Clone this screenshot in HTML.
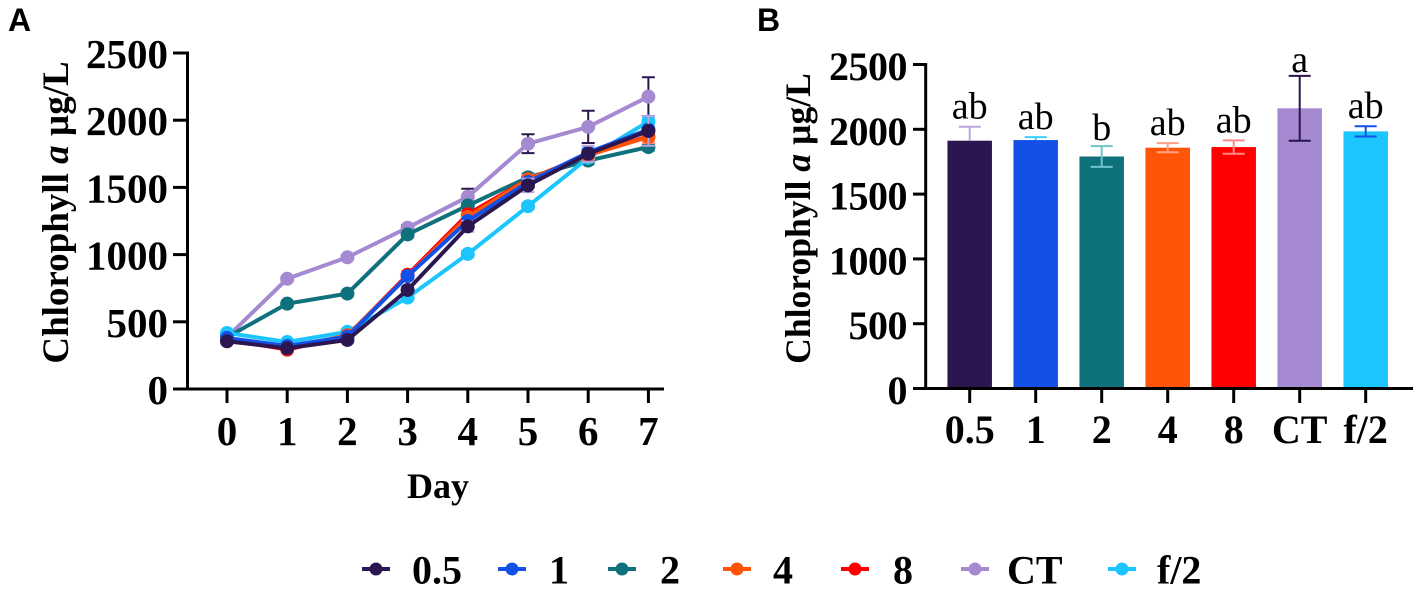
<!DOCTYPE html>
<html lang="en">
<head>
<meta charset="utf-8">
<title>Chlorophyll a</title>
<style>
html,body{margin:0;padding:0;background:#fff;width:1418px;height:590px;overflow:hidden}
svg{display:block}
text{font-family:"Liberation Serif",serif;fill:#000}
.bold{font-weight:bold}
.panel{font-family:"Liberation Sans",sans-serif;font-weight:bold;font-size:32px}
</style>
</head>
<body>
<svg id="figure" xmlns="http://www.w3.org/2000/svg" width="1418" height="590" viewBox="0 0 1418 590">
  <text class="panel" x="8" y="31">A</text>
  <text class="panel" x="757" y="31">B</text>
  <text class="bold" font-size="37" transform="translate(68 212.5) rotate(-90)" text-anchor="middle">Chlorophyll <tspan font-style="italic">a</tspan> µg/L</text>
  <text class="bold" font-size="35.6" transform="translate(810 218.5) rotate(-90)" text-anchor="middle">Chlorophyll <tspan font-style="italic">a</tspan> µg/L</text>
  <text class="bold" font-size="36" x="438" y="498" text-anchor="middle">Day</text>
  <g id="chartA"></g>
  <g id="chartB"></g>
  <g id="legend"></g>
</svg>
<script>
const groups = ['0.5', '1', '2', '4', '8', 'CT', 'f/2'];
const colors = ['#2c1650', '#1350e8', '#0f717c', '#ff5407', '#ff0000', '#a58ad2', '#1cc5fd'];
const days = [0, 1, 2, 3, 4, 5, 6, 7];
const yTicks = [0, 500, 1000, 1500, 2000, 2500];

const drawOrder = [5, 2, 6, 4, 3, 1, 0];
const series05 = [355, 303, 365, 737, 1210, 1515, 1750, 1920];
const series1 = [380, 320, 390, 840, 1250, 1540, 1760, 1930];
const series2 = [385, 635, 710, 1150, 1365, 1575, 1700, 1800];
const series4 = [375, 300, 400, 840, 1280, 1560, 1740, 1875];
const series8 = [370, 293, 395, 850, 1300, 1560, 1740, 1880];
const seriesCT = [385, 820, 980, 1200, 1430, 1825, 1950, 2175];
const seriesF2 = [417, 350, 425, 680, 1005, 1360, 1720, 1990];

const err05 = [20, 20, 20, 30, 40, 50, 60, 110];
const err1 = [15, 15, 15, 25, 30, 30, 30, 20];
const err2 = [15, 15, 15, 25, 30, 30, 30, 30];
const err4 = [15, 15, 15, 25, 30, 30, 30, 35];
const err8 = [15, 15, 15, 25, 30, 30, 30, 50];
const errCT = [15, 15, 15, 20, 60, 70, 120, 145];
const errF2 = [15, 15, 15, 15, 20, 20, 30, 40];

const barValues = [1912, 1917, 1790, 1858, 1863, 2162, 1984];
const barErrorsUp = [108, 23, 80, 35, 52, 250, 40];
const barErrorsDown = [0, 0, 80, 35, 52, 250, 40];
const barLetters = ['ab', 'ab', 'b', 'ab', 'ab', 'a', 'ab'];
const barErrorColors = ['#b9a6de', '#3fd0fb', '#6fc4cb', '#ff9f83', '#ff8a8a', '#2c1650', '#1350e8'];
const lineErrorColors = ['#b9a6de', '#1cc5fd', '#6fc4cb', '#ff9f83', '#ff8a8a', '#2c1650', '#1350e8'];

const allSeries = [series05, series1, series2, series4, series8, seriesCT, seriesF2];
const allErrors = [err05, err1, err2, err4, err8, errCT, errF2];

const NS = 'http://www.w3.org/2000/svg';
function make(parent, tag, attrs, txt) {
  const el = document.createElementNS(NS, tag);
  for (const k in attrs) el.setAttribute(k, attrs[k]);
  if (txt !== undefined) el.textContent = txt;
  parent.appendChild(el);
  return el;
}

/* ---------- Panel A ---------- */
const A = { x0: 227, dx: 60.2, y0: 389, k: 0.1344, axisX: 187.5, right: 664 };
const ax = d => A.x0 + d * A.dx;
const ay = v => A.y0 - v * A.k;
const chartA = document.getElementById('chartA');

const axisYA = make(chartA, 'line', { x1: A.axisX, x2: A.axisX, y1: ay(2500) - 1.5, y2: A.y0 + 1.5, stroke: '#000', 'stroke-width': 3 });


const axisXA = make(chartA, 'line', { x1: 173, x2: A.right, y1: A.y0, y2: A.y0, stroke: '#000', 'stroke-width': 3 });



yTicks.forEach(t => {
  const tick = make(chartA, 'line', { x1: 173, x2: A.axisX, y1: ay(t), y2: ay(t), stroke: '#000', 'stroke-width': 3 });
  
  
  const lab = make(chartA, 'text', { x: 168, y: ay(t) + 15, 'text-anchor': 'end', 'font-size': 41, class: 'bold' }, t);
  
  
});
days.forEach(d => {
  const tick = make(chartA, 'line', { x1: ax(d), x2: ax(d), y1: A.y0, y2: 403, stroke: '#000', 'stroke-width': 3 });
  
  
  const lab = make(chartA, 'text', { x: ax(d), y: 445, 'text-anchor': 'middle', 'font-size': 41, class: 'bold' }, d);
  
  
});

drawOrder.forEach(i => {
  const vals = allSeries[i];
  const errs = allErrors[i];
  const g = make(chartA, 'g', {});
  
  
  days.forEach((d, j) => {
    const top = ay(vals[j] + errs[j]);
    const bot = ay(vals[j] - errs[j]);
    const er = make(g, 'path', {
      d: 'M' + (ax(d) - 6.5) + ' ' + top + 'H' + (ax(d) + 6.5) + 'M' + ax(d) + ' ' + top + 'V' + bot + 'M' + (ax(d) - 6.5) + ' ' + bot + 'H' + (ax(d) + 6.5),
      stroke: lineErrorColors[i], 'stroke-width': 2, fill: 'none'
    });
    
    
  });
  const pts = days.map((d, j) => ax(d) + ',' + ay(vals[j])).join(' ');
  const line = make(g, 'polyline', { points: pts, fill: 'none', stroke: colors[i], 'stroke-width': 4 });
  
  
  days.forEach((d, j) => {
    const c = make(g, 'circle', { cx: ax(d), cy: ay(vals[j]), r: 7, fill: colors[i] });
    
    
  });
});

/* ---------- Panel B ---------- */
const B = { x0: 969.7, dx: 66, y0: 388.5, k: 0.1296, axisX: 925.7, left: 913, right: 1413, barW: 44.5 };
const letterGap = { a: 4, b: 6, ab: 8 };
const bx = i => B.x0 + i * B.dx;
const by = v => B.y0 - v * B.k;
const chartB = document.getElementById('chartB');

groups.forEach((name, i) => {
  const bar = make(chartB, 'rect', { x: bx(i) - B.barW / 2, y: by(barValues[i]), width: B.barW, height: B.y0 - by(barValues[i]), fill: colors[i] });
  
  
  const top = by(barValues[i] + barErrorsUp[i]);
  const bot = by(barValues[i] - barErrorsDown[i]);
  let d = 'M' + (bx(i) - 11) + ' ' + top + 'H' + (bx(i) + 11) + 'M' + bx(i) + ' ' + top + 'V' + bot;
  if (barErrorsDown[i] > 0) d += 'M' + (bx(i) - 11) + ' ' + bot + 'H' + (bx(i) + 11);
  const er = make(chartB, 'path', { d: d, stroke: barErrorColors[i], 'stroke-width': 2, fill: 'none' });
  
  
  const letter = make(chartB, 'text', { x: bx(i), y: top - letterGap[barLetters[i]], 'text-anchor': 'middle', 'font-size': 38 }, barLetters[i]);
  
  
  const tick = make(chartB, 'line', { x1: bx(i), x2: bx(i), y1: B.y0, y2: 403, stroke: '#000', 'stroke-width': 3 });
  
  
  const lab = make(chartB, 'text', { x: bx(i), y: 443, 'text-anchor': 'middle', 'font-size': 40, class: 'bold' }, name);
  
  
});

const axisYB = make(chartB, 'line', { x1: B.axisX, x2: B.axisX, y1: by(2500) - 1.5, y2: B.y0 + 1.5, stroke: '#000', 'stroke-width': 3 });


const axisXB = make(chartB, 'line', { x1: B.left, x2: B.right, y1: B.y0, y2: B.y0, stroke: '#000', 'stroke-width': 3 });



yTicks.forEach(t => {
  const tick = make(chartB, 'line', { x1: B.left, x2: B.axisX, y1: by(t), y2: by(t), stroke: '#000', 'stroke-width': 3 });
  
  
  const lab = make(chartB, 'text', { x: 907, y: by(t) + 15.5, 'text-anchor': 'end', 'font-size': 40, 'letter-spacing': '-0.5', class: 'bold' }, t);
  
  
});

/* ---------- Legend ---------- */
const legendMarkers = [376, 512, 622, 737, 855, 975, 1122];
const legendText = [412, 549, 660, 773, 893, 1007, 1157];
const legend = document.getElementById('legend');
groups.forEach((name, i) => {
  const g = make(legend, 'g', {});
  
  
  make(g, 'line', { x1: legendMarkers[i] - 14, x2: legendMarkers[i] + 14, y1: 569, y2: 569, stroke: colors[i], 'stroke-width': 4 });
  make(g, 'circle', { cx: legendMarkers[i], cy: 569, r: 6.5, fill: colors[i] });
  make(g, 'text', { x: legendText[i], y: 583.5, 'font-size': 40, class: 'bold' }, name);
});
</script>
</body>
</html>
